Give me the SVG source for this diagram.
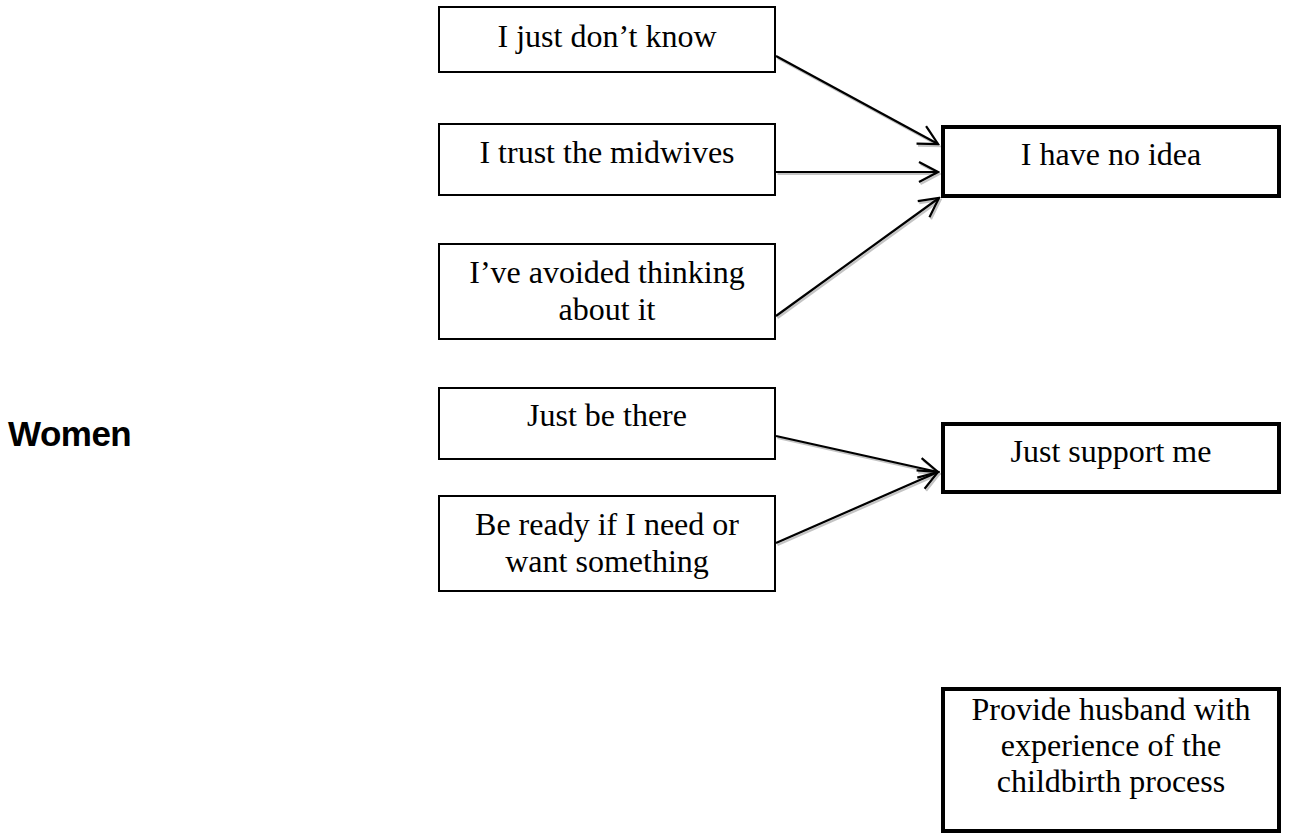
<svg xmlns="http://www.w3.org/2000/svg" width="1290" height="833" viewBox="0 0 1290 833">
  <style>
    .box { fill: #ffffff; stroke: #000000; stroke-width: 2; }
    .key { fill: #ffffff; stroke: #000000; stroke-width: 4; }
    .lbl { font-family: "Liberation Serif", "Times New Roman", serif; font-size: 32px; fill: #000000; text-anchor: middle; }
    .head { font-family: "Liberation Sans", Arial, sans-serif; font-size: 35px; font-weight: bold; letter-spacing: -0.5px; fill: #000000; }
    .edge { fill: none; stroke: #000000; stroke-width: 2.2; marker-end: url(#arrow); }
    .shadow { fill: none; stroke: #c4c4c4; stroke-width: 2.2; marker-end: url(#arrowShadow); }
  </style>
  <defs>
    <marker id="arrow" markerUnits="userSpaceOnUse" viewBox="-22 -12 24 24" markerWidth="24" markerHeight="24" refX="0" refY="0" orient="auto">
      <path d="M -19 -10 L 0 0 L -19 10" fill="none" stroke="#000000" stroke-width="2.2"/>
    </marker>
    <marker id="arrowShadow" markerUnits="userSpaceOnUse" viewBox="-22 -12 24 24" markerWidth="24" markerHeight="24" refX="0" refY="0" orient="auto">
      <path d="M -19 -10 L 0 0 L -19 10" fill="none" stroke="#c4c4c4" stroke-width="2.2"/>
    </marker>
  </defs>

  <rect width="1290" height="833" fill="#ffffff"/>

  <!-- side heading -->
  <g id="women">
    <text class="head" x="8" y="446">Women</text>
  </g>

  <!-- connectors: soft grey shadow underneath, black line on top -->
  <g id="connectors">
    <g transform="translate(1.5,2)">
      <line class="shadow" x1="776" y1="56" x2="938" y2="144"/>
      <line class="shadow" x1="776" y1="172" x2="938" y2="172"/>
      <line class="shadow" x1="776" y1="316" x2="939" y2="198"/>
      <line class="shadow" x1="776" y1="436" x2="938" y2="472"/>
      <line class="shadow" x1="776" y1="543" x2="938" y2="472"/>
    </g>
    <line class="edge" x1="776" y1="56" x2="938" y2="144"/>
    <line class="edge" x1="776" y1="172" x2="938" y2="172"/>
    <line class="edge" x1="776" y1="316" x2="939" y2="198"/>
    <line class="edge" x1="776" y1="436" x2="938" y2="472"/>
    <line class="edge" x1="776" y1="543" x2="938" y2="472"/>
  </g>

  <!-- source statements -->
  <g id="dont-know">
    <rect class="box" x="439" y="7" width="336" height="65"/>
    <text class="lbl" x="607" y="47">I just don’t know</text>
  </g>
  <g id="trust-midwives">
    <rect class="box" x="439" y="124" width="336" height="71"/>
    <text class="lbl" x="607" y="163">I trust the midwives</text>
  </g>
  <g id="avoided-thinking">
    <rect class="box" x="439" y="244" width="336" height="95"/>
    <text class="lbl" x="607" y="283">I’ve avoided thinking</text>
    <text class="lbl" x="607" y="320">about it</text>
  </g>
  <g id="be-there">
    <rect class="box" x="439" y="388" width="336" height="71"/>
    <text class="lbl" x="607" y="426">Just be there</text>
  </g>
  <g id="be-ready">
    <rect class="box" x="439" y="496" width="336" height="95"/>
    <text class="lbl" x="607" y="535">Be ready if I need or</text>
    <text class="lbl" x="607" y="572">want something</text>
  </g>

  <!-- themes -->
  <g id="no-idea">
    <rect class="key" x="943" y="127" width="336" height="69"/>
    <text class="lbl" x="1111" y="165">I have no idea</text>
  </g>
  <g id="support-me">
    <rect class="key" x="943" y="424" width="336" height="68"/>
    <text class="lbl" x="1111" y="462">Just support me</text>
  </g>
  <g id="husband-experience">
    <rect class="key" x="943" y="689" width="336" height="142"/>
    <text class="lbl" x="1111" y="720">Provide husband with</text>
    <text class="lbl" x="1111" y="756">experience of the</text>
    <text class="lbl" x="1111" y="792">childbirth process</text>
  </g>
</svg>
